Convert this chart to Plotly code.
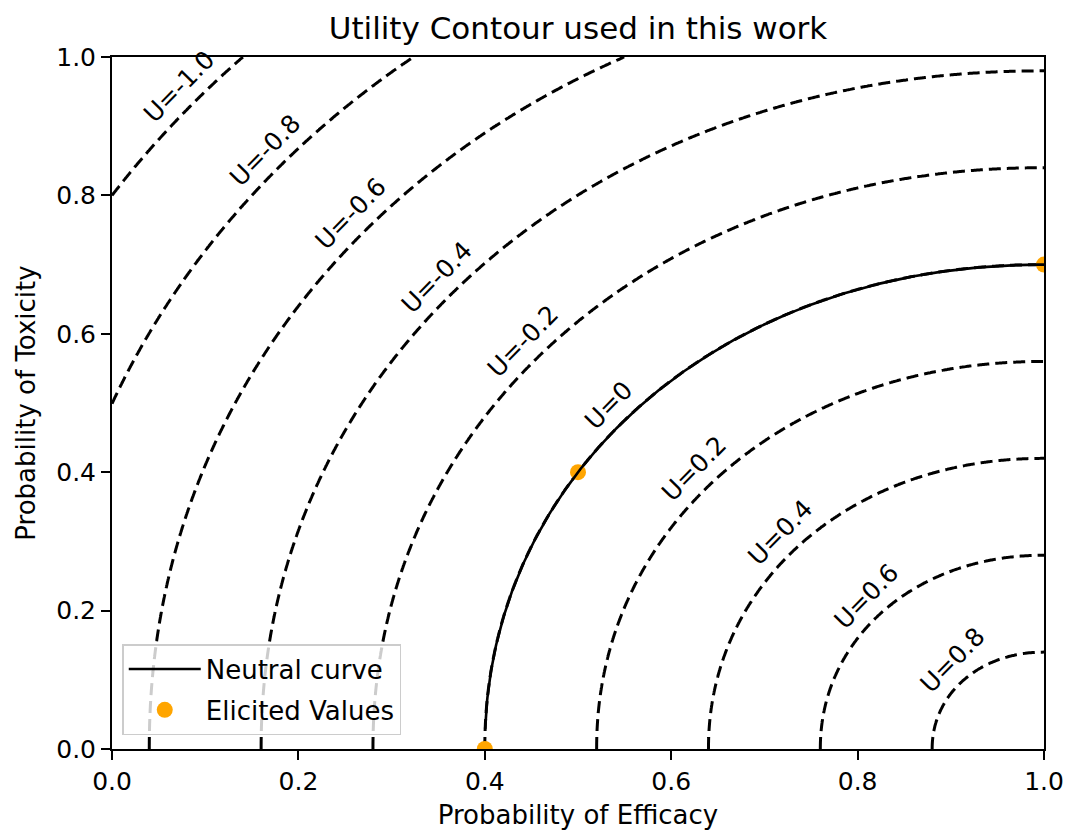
import math
import numpy as np
import plotly.graph_objects as go

# Elicited (efficacy, toxicity) trade-off points that define the neutral contour
elicited_eff = [0.4, 0.5, 1.0]
elicited_tox = [0.0, 0.4, 0.7]

# Utility levels drawn as contour lines
utility_levels = [-1.0, -0.8, -0.6, -0.4, -0.2, 0.0, 0.2, 0.4, 0.6, 0.8]

tick_vals = [0.0, 0.2, 0.4, 0.6, 0.8, 1.0]
tick_text = ["0.0", "0.2", "0.4", "0.6", "0.8", "1.0"]

# --- utility surface parameters derived from the elicited points ---
eff_star = elicited_eff[0]      # efficacy acceptable with zero toxicity
tox_star = elicited_tox[2]      # toxicity acceptable with certain efficacy
mid_eff, mid_tox = elicited_eff[1], elicited_tox[1]
a = 1.0 - eff_star
b = tox_star


def neutral_gap(p):
    return ((1 - mid_eff) / a) ** p + (mid_tox / b) ** p - 1.0


lo, hi = 0.5, 10.0
for _ in range(200):
    m = 0.5 * (lo + hi)
    if neutral_gap(m) > 0:
        lo = m
    else:
        hi = m
p = 0.5 * (lo + hi)


def utility(e, t):
    return 1.0 - (((1.0 - e) / a) ** p + (t / b) ** p) ** (1.0 / p)


grid = np.linspace(0.0, 1.0, 501)
E, T = np.meshgrid(grid, grid)
Z = utility(E, T)

# Neutral curve (U = 0) sampled along efficacy
e_n = np.linspace(eff_star, 1.0, 1500)[1:]
t_n = b * np.clip(1.0 - ((1.0 - e_n) / a) ** p, 0, None) ** (1.0 / p)

# --- layout geometry ---
W, H = 1065, 830
ML, MR, MT, MB = 112, 21, 57, 81
PW, PH = W - ML - MR, H - MT - MB

FONT = "DejaVu Sans"
BASE = 25

fig = go.Figure()

fig.add_trace(go.Contour(
    x=grid, y=grid, z=Z,
    autocontour=False,
    contours=dict(start=utility_levels[0], end=utility_levels[-1],
                  size=round(utility_levels[1] - utility_levels[0], 6),
                  coloring="lines", showlabels=False),
    line=dict(width=3, dash="12px,6px"),
    colorscale=[[0, "black"], [1, "black"]],
    showscale=False, hoverinfo="skip", showlegend=False,
))

fig.add_trace(go.Scatter(
    x=elicited_eff, y=elicited_tox, mode="markers",
    marker=dict(color="#FFA500", size=16),
    name="Elicited Values", cliponaxis=True, legendrank=2, legendgroup="pts",
))

fig.add_trace(go.Scatter(
    x=e_n, y=t_n, mode="lines",
    line=dict(color="black", width=2.6),
    name="Neutral curve", legendrank=1, legendgroup="curve",
))

# Contour labels: anchored where each level crosses the anti-diagonal,
# rotated along the line and lifted slightly above it
norm = ((1.0 / a) ** p + (1.0 / b) ** p) ** (1.0 / p)
for u in utility_levels:
    s = (1.0 - u) / norm
    e0, t0 = 1.0 - s, s
    ux = ((1.0 - e0) / a) ** (p - 1) / a
    uy = -((t0 / b) ** (p - 1)) / b
    slope = -ux / uy
    theta = math.atan(slope * PH / PW)
    label = "U=0" if u == 0 else f"U={u:.1f}"
    fig.add_annotation(
        x=e0, y=t0, xref="x", yref="y", text=label, showarrow=False,
        textangle=-math.degrees(theta),
        xshift=-6, yshift=25,
        font=dict(family=FONT, size=BASE, color="black"),
        xanchor="center", yanchor="middle",
    )

axis_common = dict(
    range=[0, 1], tickvals=tick_vals, ticktext=tick_text,
    ticks="outside", ticklen=9, tickwidth=2, tickcolor="black",
    showline=True, linecolor="black", linewidth=2, mirror=True,
    showgrid=False, zeroline=False, automargin=False,
    tickfont=dict(family=FONT, size=BASE, color="black"),
)

fig.update_layout(
    width=W, height=H,
    margin=dict(l=ML, r=MR, t=MT, b=MB),
    paper_bgcolor="white", plot_bgcolor="white",
    font=dict(family=FONT, size=BASE, color="black"),
    title=dict(text="Utility Contour used in this work", x=0.5, xanchor="center",
               xref="paper", y=1 - 28 / H, yref="container", yanchor="middle",
               font=dict(family=FONT, size=31, color="black")),
    xaxis=dict(axis_common, title=dict(text="Probability of Efficacy", standoff=14,
                                       font=dict(family=FONT, size=BASE + 1))),
    yaxis=dict(axis_common, title=dict(text="Probability of Toxicity", standoff=13,
                                       font=dict(family=FONT, size=BASE + 1))),
    legend=dict(x=0.011, y=0.02, xanchor="left", yanchor="bottom",
                bgcolor="rgba(255,255,255,0.8)", bordercolor="#cccccc", borderwidth=1.5,
                font=dict(family=FONT, size=BASE + 1), traceorder="grouped",
                tracegroupgap=4, itemwidth=72),
    showlegend=True,
)

fig.write_html("out.html")
